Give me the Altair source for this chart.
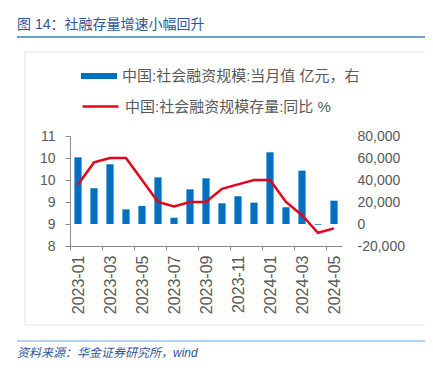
import altair as alt
import pandas as pd

months = ["2023-01", "2023-02", "2023-03", "2023-04", "2023-05", "2023-06",
          "2023-07", "2023-08", "2023-09", "2023-10", "2023-11", "2023-12",
          "2024-01", "2024-02", "2024-03", "2024-04", "2024-05"]
tsf_monthly = [60600, 32500, 54300, 13300, 16400, 42400, 5700, 31500, 41500,
               18800, 25200, 19400, 65200, 15200, 48500, -600, 21200]
tsf_stock_yoy = [9.4, 9.9, 10.0, 10.0, 9.5, 9.0, 8.9, 9.0, 9.0, 9.3, 9.4,
                 9.5, 9.5, 9.0, 8.7, 8.3, 8.4]
left_ticks = [8.0, 8.5, 9.0, 9.5, 10.0, 10.5]
right_ticks = [-20000, 0, 20000, 40000, 60000, 80000]

name_bar = "中国:社会融资规模:当月值 亿元，右"
name_line = "中国:社会融资规模存量:同比 %"
title_text = "图 14：社融存量增速小幅回升"
source_text = "资料来源：华金证券研究所，wind"

FONT = "Liberation Sans, Arial, Noto Sans CJK SC"
BLUE = "#0070C0"
RED = "#E3051B"
GREY = "#595959"
AXIS = "#8c8c8c"

df = pd.DataFrame({
    "month": months,
    "tsf": tsf_monthly,
    "yoy": tsf_stock_yoy,
    "s1": [name_bar] * len(months),
    "s2": [name_line] * len(months),
})

x_enc = alt.X(
    "month:O", sort=months,
    scale=alt.Scale(paddingInner=0.55, paddingOuter=0.275),
    axis=alt.Axis(title=None, values=months[::2], labelAngle=-90,
                  tickOffset=-8, labelOffset=8, tickSize=4, labelPadding=5,
                  labelFontSize=16, labelColor=GREY, domainColor=AXIS,
                  tickColor=AXIS),
)

bars = alt.Chart(df).mark_bar().encode(
    x=x_enc,
    y=alt.Y("tsf:Q",
            scale=alt.Scale(domain=[-20000, 80000], nice=False, zero=False),
            axis=alt.Axis(orient="right", title=None, values=right_ticks,
                          ticks=False, tickSize=0, domain=False, grid=False,
                          labelPadding=15, labelFontSize=14, labelColor=GREY,
                          labelExpr="replace(format(datum.value, ','), '\u2212', '-')")),
    color=alt.Color("s1:N", scale=alt.Scale(domain=[name_bar], range=[BLUE]),
                    legend=alt.Legend(orient="none", legendX=11, legendY=-78,
                                      title=None, padding=0,
                                      symbolType="M-1,-0.17L1,-0.17L1,0.17L-1,0.17Z",
                                      symbolSize=1296, symbolStrokeWidth=0,
                                      labelFontSize=15, labelColor=GREY,
                                      labelFont=FONT, labelLimit=500,
                                      labelOffset=5)),
)

line = alt.Chart(df).mark_line(strokeWidth=2.5).encode(
    x=alt.X("month:O", sort=months),
    y=alt.Y("yoy:Q",
            scale=alt.Scale(domain=[8.0, 10.5], nice=False, zero=False),
            axis=alt.Axis(orient="left", title=None, values=left_ticks,
                          format=".0f", tickSize=5, labelPadding=10,
                          grid=False, labelFontSize=14, labelColor=GREY,
                          domainColor=AXIS, tickColor=AXIS)),
    stroke=alt.Stroke("s2:N", scale=alt.Scale(domain=[name_line], range=[RED]),
                      legend=alt.Legend(orient="none", legendX=11, legendY=-49,
                                        title=None, padding=0,
                                        symbolType="stroke", symbolSize=1296,
                                        symbolStrokeWidth=2.5,
                                        labelFontSize=15, labelColor=GREY,
                                        labelFont=FONT, labelLimit=500,
                                        labelOffset=5)),
)

one = pd.DataFrame({"t": [title_text]})
title = alt.Chart(one).mark_text(align="left", baseline="middle", fontSize=14,
                                 font=FONT, color="#2F5597").encode(
    x=alt.value(-53), y=alt.value(-111), text="t:N")
title_rule = alt.Chart(one).mark_rule(color="#3A7FC1", strokeWidth=1.5).encode(
    x=alt.value(-53), x2=alt.value(363), y=alt.value(-99))

src = pd.DataFrame({"t": [source_text]})
source = alt.Chart(src).mark_text(align="left", baseline="middle", fontSize=12,
                                  font=FONT, fontStyle="italic",
                                  color="#2F5597").encode(
    x=alt.value(-53), y=alt.value(217), text="t:N")
foot_rule = alt.Chart(src).mark_rule(color="#9DC3E6", strokeWidth=1.5).encode(
    x=alt.value(-53), x2=alt.value(363), y=alt.value(205))

frame = alt.Chart(one).mark_rect(fill=None, stroke="#e3e3e3", strokeWidth=1).encode(
    x=alt.value(-45), x2=alt.value(356), y=alt.value(-84), y2=alt.value(189))

chart = alt.layer(frame, bars, line, title, title_rule, source, foot_rule).resolve_scale(
    y="independent", color="independent", stroke="independent"
).properties(
    width=272, height=110,
    autosize=alt.AutoSizeParams(type="none"),
    padding={"left": 62, "top": 128, "right": 83, "bottom": 114},
).configure_view(stroke=None).configure_axis(
    labelFont=FONT
)

chart.save("out.html", embed_options={"renderer": "svg", "actions": False})
